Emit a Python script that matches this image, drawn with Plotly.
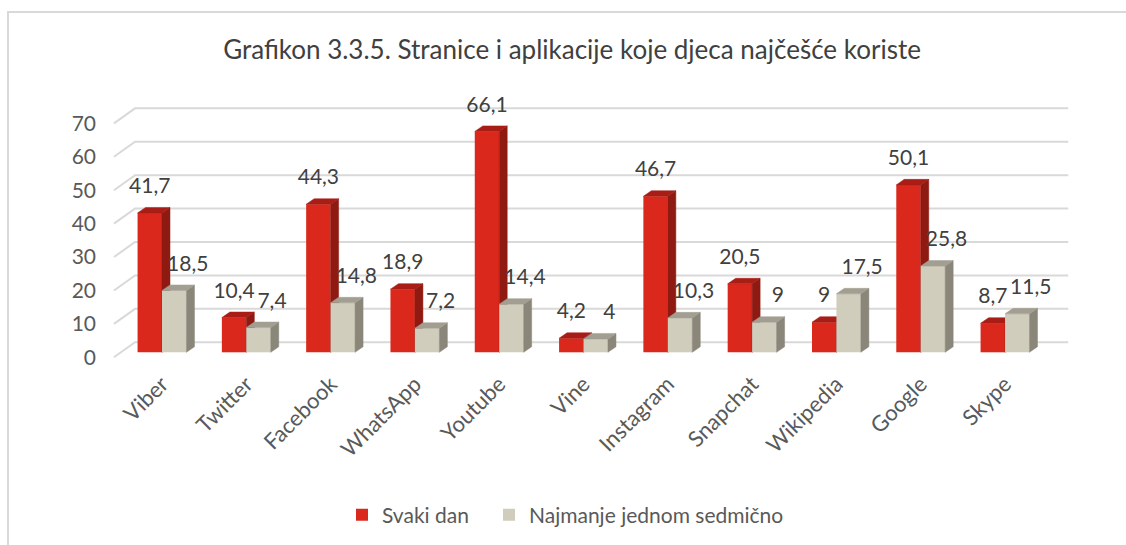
import plotly.graph_objects as go

# ---- data ----
categories = ["Viber", "Twitter", "Facebook", "WhatsApp", "Youtube", "Vine",
              "Instagram", "Snapchat", "Wikipedia", "Google", "Skype"]
svaki_dan = [41.7, 10.4, 44.3, 18.9, 66.1, 4.2, 46.7, 20.5, 9, 50.1, 8.7]
sedmicno = [18.5, 7.4, 14.8, 7.2, 14.4, 4, 10.3, 9, 17.5, 25.8, 11.5]
y_ticks = [0, 10, 20, 30, 40, 50, 60, 70]
series_names = ["Svaki dan", "Najmanje jednom sedmično"]
title_text = "Grafikon 3.3.5. Stranice i aplikacije koje djeca najčešće koriste"

# ---- style / geometry constants ----
W, H = 1126, 545
ML, MR, MT, MB = 100, 51, 100, 179
X_RANGE = [-0.7355, 10.83]
Y_RANGE = [-4.1, 75.5]
BAR_W = 0.29
DX, DY = 0.095, 1.65          # 3D depth (x units, y units)
FRONT_OFF = -1.5              # front edge of floor relative to bars
BACK_OFF = 3.0                # back wall relative to bars
GRID_X_FRONT, GRID_X_BACK, GRID_X_END = -0.57, -0.32, 10.75
LABEL_DY = 7.5
GRAY_LABEL_DX = 0.16

RED = dict(front="#DA291C", side="#8E1A12", top="#A81D15")
GRY = dict(front="#D0CDBD", side="#8A867A", top="#A29E91")
TXT = "#595959"
FONT = "Lato, 'Open Sans', sans-serif"

xs = list(range(len(categories)))


def faces(values, offset):
    side_x, side_y, top_x, top_y = [], [], [], []
    for i, v in zip(xs, values):
        x0 = i + offset
        x1 = x0 + BAR_W
        side_x += [x1, x1 + DX, x1 + DX, x1, x1, None]
        side_y += [0, DY, v + DY, v, 0, None]
        top_x += [x0, x1, x1 + DX, x0 + DX, x0, None]
        top_y += [v, v, v + DY, v + DY, v, None]
    return side_x, side_y, top_x, top_y


def fmt(v):
    return f"{v:g}".replace(".", ",")


fig = go.Figure()

for vals, off, col, name, xa, ya, lg in [
    (svaki_dan, -BAR_W, RED, series_names[0], "x", "y", "legend"),
    (sedmicno, 0.0, GRY, series_names[1], "x2", "y2", "legend2"),
]:
    fig.add_trace(go.Bar(
        x=xs, y=vals, width=BAR_W, offset=off, name=name, legend=lg,
        marker=dict(color=col["front"], line=dict(width=0)),
        xaxis=xa, yaxis=ya, showlegend=True, hoverinfo="skip"))
    sx, sy, tx, ty = faces(vals, off)
    fig.add_trace(go.Scatter(x=sx, y=sy, mode="lines", fill="toself",
                             fillcolor=col["side"], line=dict(width=0.5, color=col["side"]),
                             xaxis=xa, yaxis=ya, showlegend=False, hoverinfo="skip"))
    fig.add_trace(go.Scatter(x=tx, y=ty, mode="lines", fill="toself",
                             fillcolor=col["top"], line=dict(width=0.5, color=col["top"]),
                             xaxis=xa, yaxis=ya, showlegend=False, hoverinfo="skip"))

# data labels (on top layer)
lab_x = [i - BAR_W / 2 for i in xs] + [i + BAR_W / 2 + GRAY_LABEL_DX for i in xs]
lab_y = [v + LABEL_DY for v in svaki_dan] + [v + LABEL_DY for v in sedmicno]
lab_t = [fmt(v) for v in svaki_dan] + [fmt(v) for v in sedmicno]
fig.add_trace(go.Scatter(x=lab_x, y=lab_y, text=lab_t, mode="text",
                         textposition="middle center",
                         textfont=dict(family=FONT, size=21, color="#404040"),
                         xaxis="x2", yaxis="y2", showlegend=False, hoverinfo="skip",
                         cliponaxis=False))

# back-wall gridlines with slanted floor/side edge
shapes = []
for v in y_ticks:
    shapes.append(dict(type="path", xref="x", yref="y", layer="below",
                       path=f"M {GRID_X_FRONT},{v + FRONT_OFF} L {GRID_X_BACK},{v + BACK_OFF} L {GRID_X_END},{v + BACK_OFF}",
                       line=dict(color="#D9D9D9", width=2)))

# chart border (left and top edges)
pw, ph = W - ML - MR, H - MT - MB
bx0 = (8 - ML) / pw
bx1 = (W + 4 - ML) / pw
by0 = (ph + MT - 12) / ph
shapes.append(dict(type="path", xref="paper", yref="paper", layer="above",
                   path=f"M {bx0},{-2} L {bx0},{by0} L {bx1},{by0}",
                   line=dict(color="#D9D9D9", width=2)))

leg_common = dict(orientation="h", xref="container", xanchor="left",
                  y=1 - 515 / H, yref="container", yanchor="middle",
                  font=dict(family=FONT, size=21, color=TXT),
                  itemwidth=30, bgcolor="rgba(0,0,0,0)")

fig.update_layout(
    width=W, height=H,
    margin=dict(l=ML, r=MR, t=MT, b=MB),
    paper_bgcolor="white", plot_bgcolor="rgba(0,0,0,0)",
    barmode="overlay",
    title=dict(text=title_text, x=572 / W, xref="container", xanchor="center",
               y=1 - 50 / H, yref="container", yanchor="middle",
               font=dict(family=FONT, size=26, color="#404040")),
    xaxis=dict(range=X_RANGE, tickvals=xs, ticktext=categories, tickangle=-45,
               showgrid=False, zeroline=False, showline=False, ticks="",
               tickfont=dict(family=FONT, size=22, color=TXT), automargin=False),
    yaxis=dict(range=Y_RANGE, tickvals=[v + FRONT_OFF for v in y_ticks],
               ticktext=[str(v) for v in y_ticks], showgrid=False, zeroline=False,
               showline=False, ticks="", ticklabelstandoff=3,
               tickfont=dict(family=FONT, size=21, color=TXT), automargin=False),
    xaxis2=dict(range=X_RANGE, overlaying="x", visible=False),
    yaxis2=dict(range=Y_RANGE, overlaying="y", visible=False),
    legend=dict(x=342 / W, **leg_common),
    legend2=dict(x=489 / W, **leg_common),
    shapes=shapes,
    showlegend=True,
)

fig.write_html("out.html",
               config={"displayModeBar": False},
               post_script="document.body.style.margin='0';"
                           "document.body.style.overflow='hidden';"
                           "document.documentElement.style.overflow='hidden';")
